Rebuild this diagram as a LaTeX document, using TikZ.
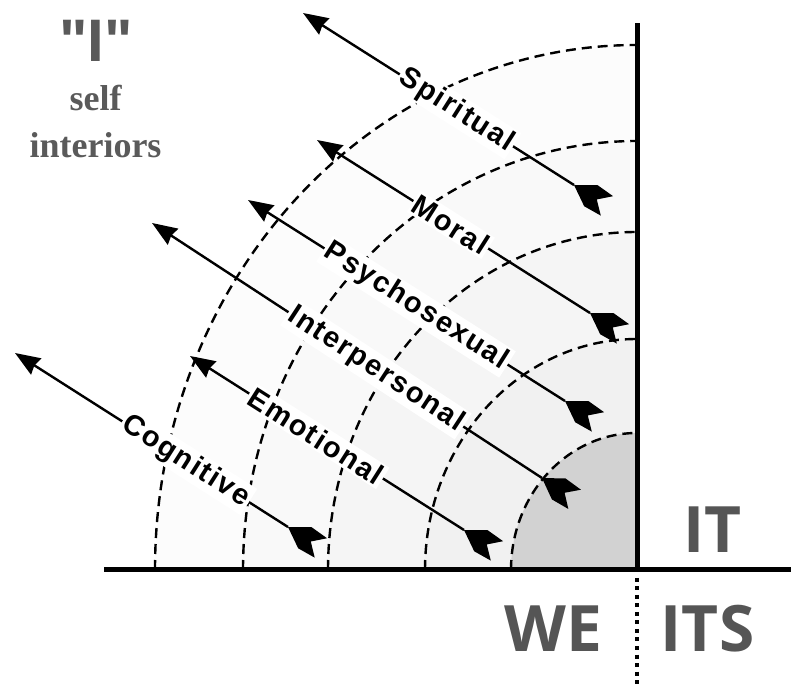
\documentclass[tikz,border=0pt]{standalone}
\usepackage{fontspec}
\setmainfont{Liberation Serif}
\newfontfamily\lblfont[LetterSpace=6]{Liberation Sans}
\newfontfamily\quadfont{Open Sans}
\newfontfamily\ifont{Liberation Sans}
\usetikzlibrary{arrows.meta,calc}
\definecolor{txtgray}{HTML}{555555}
\definecolor{selfgray}{HTML}{5A5A5A}
\definecolor{ringA}{HTML}{FCFCFC}
\definecolor{ringB}{HTML}{F9F9F9}
\definecolor{ringC}{HTML}{F5F5F5}
\definecolor{ringD}{HTML}{F1F1F1}
\definecolor{ringE}{HTML}{D2D2D2}
\tikzset{
  ringline/.style={dash pattern=on 10pt off 6pt, line width=2.4pt},
  axisline/.style={line width=5pt},
  arr/.style={line width=2.4pt, {Stealth[length=25pt,width=19pt,inset=2pt]}-},
  lbl/.style={sloped, fill=white, inner sep=2pt, text=black,
    font=\lblfont\bfseries\fontsize{29}{34}\selectfont},
  quad/.style={text=txtgray, anchor=base,
    font=\quadfont\bfseries\fontsize{64}{70}\selectfont},
  selftext/.style={text=selfgray, anchor=base,
    font=\bfseries\fontsize{36}{40}\selectfont}
}
\newcommand\fletchat[2]{%
  \fill[shift={(#1)},rotate=#2] (0,0) -- (20,12.5) -- (39,11.5) -- (27,0)
    -- (39,-11.5) -- (20,-12.5) -- cycle;}
\begin{document}
\begin{tikzpicture}[x=1pt,y=1pt]
\useasboundingbox (0,0) rectangle (791,687);
\coordinate (O) at (637,117);
% ring fills
\fill[ringA] (O) -- ++(-482,0) arc[start angle=180,end angle=90,x radius=482,y radius=525] -- cycle;
\fill[ringB] (O) -- ++(-394,0) arc[start angle=180,end angle=90,x radius=394,y radius=429] -- cycle;
\fill[ringC] (O) -- ++(-309,0) arc[start angle=180,end angle=90,x radius=309,y radius=338] -- cycle;
\fill[ringD] (O) -- ++(-212,0) arc[start angle=180,end angle=90,x radius=212,y radius=231] -- cycle;
\fill[ringE] (O) -- ++(-126,0) arc[start angle=180,end angle=90,x radius=126,y radius=137] -- cycle;
% dashed arcs
\draw[ringline] (O) ++(-482,0) arc[start angle=180,end angle=90,x radius=482,y radius=525];
\draw[ringline] (O) ++(-394,0) arc[start angle=180,end angle=90,x radius=394,y radius=429];
\draw[ringline] (O) ++(-309,0) arc[start angle=180,end angle=90,x radius=309,y radius=338];
\draw[ringline] (O) ++(-212,0) arc[start angle=180,end angle=90,x radius=212,y radius=231];
\draw[ringline] (O) ++(-126,0) arc[start angle=180,end angle=90,x radius=126,y radius=137];
% axes
\coordinate (axL) at (104,117);
\coordinate (axR) at (791,117);
\coordinate (axT) at (637,664);
\coordinate (axB) at (637,0);
\draw[axisline] (axL) -- (axR);
\draw[axisline] (O) -- (axT);
\draw[line width=3.5pt, dash pattern=on 4pt off 4.5pt] ($(O)+(0,-8)$) -- (axB);
% arrows
\coordinate (hS) at (303,674); \coordinate (tS) at (574,502);
\coordinate (hM) at (317,547); \coordinate (tM) at (590,374);
\coordinate (hP) at (248,487); \coordinate (tP) at (565,286);
\coordinate (hI) at (152,464); \coordinate (tI) at (542,209);
\coordinate (hE) at (190,331); \coordinate (tE) at (464,157);
\coordinate (hC) at (15,334);  \coordinate (tC) at (288,160);
\draw[arr] (hS) -- node[lbl,pos=0.566]{Spiritual} (tS);
\draw[arr] (hM) -- node[lbl,pos=0.49]{Moral} (tM);
\draw[arr] (hP) -- node[lbl,pos=0.53]{Psychosexual} (tP);
\draw[arr] (hI) -- node[lbl,pos=0.574]{Interpersonal} (tI);
\draw[arr] (hE) -- node[lbl,pos=0.46]{Emotional} (tE);
\draw[arr] (hC) -- node[lbl,pos=0.625]{Cognitive} (tC);
\fletchat{tS}{-32.4}
\fletchat{tM}{-32.4}
\fletchat{tP}{-32.4}
\fletchat{tI}{-33.2}
\fletchat{tE}{-32.4}
\fletchat{tC}{-32.5}
% quadrant labels
\node[quad] (it) at (712.5,134) {IT};
\node[quad] (we) at (553.5,36) {WE};
\node[quad] (its) at (707.5,36) {ITS};
% upper-left labels
\node[text=selfgray, anchor=base, font=\ifont\bfseries\fontsize{60}{66}\selectfont] (ii) at (96,625) {"I"};
\node[selftext] (self) at (95.5,576) {self};
\node[selftext] (intr) at (95.5,529) {interiors};
\end{tikzpicture}
\end{document}
